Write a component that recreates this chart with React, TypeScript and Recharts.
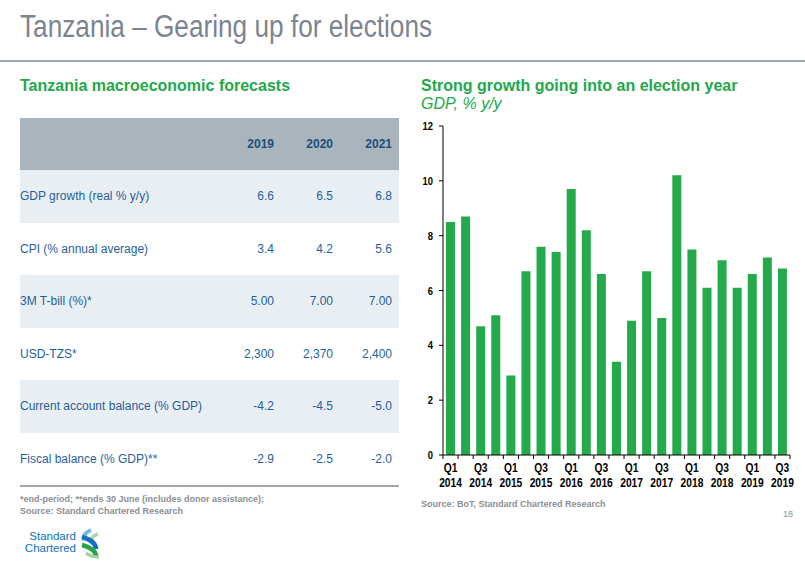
import React from "react";
import { BarChart, Bar, XAxis, YAxis } from "recharts";

// quarterly GDP growth, % y/y
const quarters = [
  "Q1 2014", "Q2 2014", "Q3 2014", "Q4 2014",
  "Q1 2015", "Q2 2015", "Q3 2015", "Q4 2015",
  "Q1 2016", "Q2 2016", "Q3 2016", "Q4 2016",
  "Q1 2017", "Q2 2017", "Q3 2017", "Q4 2017",
  "Q1 2018", "Q2 2018", "Q3 2018", "Q4 2018",
  "Q1 2019", "Q2 2019", "Q3 2019",
];
const gdpGrowth = [
  8.5, 8.7, 4.7, 5.1, 2.9, 6.7, 7.6, 7.4, 9.7, 8.2, 6.6, 3.4,
  4.9, 6.7, 5.0, 10.2, 7.5, 6.1, 7.1, 6.1, 6.6, 7.2, 6.8,
];
const yTicks = [0, 2, 4, 6, 8, 10, 12];

// forecast table
const forecastYears = ["2019", "2020", "2021"];
const indicators = [
  "GDP growth (real % y/y)",
  "CPI (% annual average)",
  "3M T-bill (%)*",
  "USD-TZS*",
  "Current account balance (% GDP)",
  "Fiscal balance (% GDP)**",
];
const indicatorValues = [
  ["6.6", "6.5", "6.8"],
  ["3.4", "4.2", "5.6"],
  ["5.00", "7.00", "7.00"],
  ["2,300", "2,370", "2,400"],
  ["-4.2", "-4.5", "-5.0"],
  ["-2.9", "-2.5", "-2.0"],
];

const data = quarters.map((q, i) => ({ quarter: q, gdp: gdpGrowth[i] }));

const SANS = '"Liberation Sans", Arial, sans-serif';
const GREEN = "#22a84a";
const BLUE_TEXT = "#1f5f9c";
const GREY_TEXT = "#8a8e93";
// no narrow face installed, so squeeze the regular one
const NARROW_X = 0.82;

const CHART_W = 395;
const CHART_H = 381;
const MARGIN = { top: 16, right: 15, left: 0, bottom: 0 };
const Y_W = 33;
const PLOT_W = CHART_W - MARGIN.left - MARGIN.right - Y_W;
const BAND = PLOT_W / quarters.length;

function QuarterTick(props: any) {
  const { x, y, payload, index } = props;
  const [q, yr] = String(payload.value).split(" ");
  const left = x - BAND / 2;
  return (
    <g>
      <line x1={left} x2={left} y1={y} y2={y + 4} stroke="#000" />
      {index === quarters.length - 1 && (
        <line x1={left + BAND} x2={left + BAND} y1={y} y2={y + 4} stroke="#000" />
      )}
      {index % 2 === 0 && (
        <text
          transform={`translate(${x},${y}) scale(${NARROW_X},1)`}
          textAnchor="middle"
          fontFamily={SANS}
          fontSize={12.5}
          fontWeight={700}
          fill="#000"
        >
          <tspan x={0} y={17}>{q}</tspan>
          <tspan x={0} y={32}>{yr}</tspan>
        </text>
      )}
    </g>
  );
}

function ValueTick(props: any) {
  const { x, y, payload } = props;
  return (
    <text
      transform={`translate(${x},${y}) scale(${NARROW_X},1)`}
      textAnchor="end"
      dy="0.355em"
      fontFamily={SANS}
      fontSize={11.5}
      fontWeight={700}
      fill="#000"
    >
      {payload.value}
    </text>
  );
}

function Logo() {
  return (
    <div style={{ position: "absolute", left: 0, top: 526, width: 110, height: 35 }}>
      <div
        style={{
          position: "absolute",
          right: 34,
          top: 4,
          textAlign: "right",
          fontFamily: SANS,
          fontSize: 11.5,
          lineHeight: "12px",
          color: "#0a72ba",
        }}
      >
        Standard
        <br />
        Chartered
      </div>
      <svg style={{ position: "absolute", left: 78, top: 2 }} width={26} height={32}>
        <path d="M13 2 Q4 6 6 12" stroke="#79b6e3" strokeWidth={4} fill="none" />
        <path d="M20 6 Q12 9 14 13" stroke="#a9d9ab" strokeWidth={3.5} fill="none" />
        <path d="M4 9 Q18 13 18 21" stroke="#1372bb" strokeWidth={4.5} fill="none" />
        <path d="M4 17 Q19 21 18 30" stroke="#26a447" strokeWidth={4.5} fill="none" />
        <path d="M8 25 Q13 29 21 29" stroke="#9fd49f" strokeWidth={3} fill="none" />
      </svg>
    </div>
  );
}

function ForecastTable() {
  const rowH = 52.5;
  return (
    <div style={{ position: "absolute", left: 20, top: 118, width: 379 }}>
      <div
        style={{
          display: "flex",
          alignItems: "center",
          height: 52,
          background: "#aab4bd",
          fontFamily: SANS,
          fontSize: 12,
          fontWeight: 700,
          color: "#1b4f7c",
        }}
      >
        <div style={{ width: 195 }} />
        {forecastYears.map((yr) => (
          <div key={yr} style={{ width: 59, textAlign: "right" }}>
            {yr}
          </div>
        ))}
      </div>
      {indicators.map((name, i) => (
        <div
          key={name}
          style={{
            display: "flex",
            alignItems: "center",
            height: rowH,
            background: i % 2 === 0 ? "#e9eef2" : "#ffffff",
            fontFamily: SANS,
            fontSize: 12,
            color: BLUE_TEXT,
          }}
        >
          <div style={{ width: 195 }}>{name}</div>
          {indicatorValues[i].map((v, j) => (
            <div key={j} style={{ width: 59, textAlign: "right" }}>
              {v}
            </div>
          ))}
        </div>
      ))}
      <div style={{ height: 2, background: "#a3a6aa" }} />
    </div>
  );
}

export default function App() {
  return (
    <div style={{ position: "relative", width: 805, height: 561, background: "#fff", overflow: "hidden" }}>
      <style>{`body{margin:0}`}</style>
      <div
        style={{
          position: "absolute",
          left: 20,
          top: 11,
          fontFamily: SANS,
          fontSize: 31,
          lineHeight: 1,
          color: "#7b8490",
          whiteSpace: "nowrap",
          transform: "scaleX(0.845)",
          transformOrigin: "left top",
        }}
      >
        Tanzania – Gearing up for elections
      </div>
      <div style={{ position: "absolute", left: 0, top: 60, width: 805, height: 2, background: "#9da5ae" }} />

      <div
        style={{
          position: "absolute",
          left: 20,
          top: 78,
          fontFamily: SANS,
          fontSize: 16,
          fontWeight: 700,
          lineHeight: 1,
          color: GREEN,
          whiteSpace: "nowrap",
        }}
      >
        Tanzania macroeconomic forecasts
      </div>

      <ForecastTable />

      <div
        style={{
          position: "absolute",
          left: 20,
          top: 493,
          fontFamily: SANS,
          fontSize: 9,
          fontWeight: 700,
          lineHeight: "12px",
          color: GREY_TEXT,
          whiteSpace: "nowrap",
        }}
      >
        *end-period; **ends 30 June (includes donor assistance);
        <br />
        Source: Standard Chartered Research
      </div>

      <Logo />

      <div
        style={{
          position: "absolute",
          left: 421,
          top: 78,
          fontFamily: SANS,
          fontSize: 16,
          fontWeight: 700,
          lineHeight: 1,
          color: GREEN,
          whiteSpace: "nowrap",
        }}
      >
        Strong growth going into an election year
      </div>
      <div
        style={{
          position: "absolute",
          left: 421,
          top: 96,
          fontFamily: SANS,
          fontSize: 16,
          fontStyle: "italic",
          lineHeight: 1,
          color: GREEN,
          whiteSpace: "nowrap",
        }}
      >
        GDP, % y/y
      </div>

      <div style={{ position: "absolute", left: 410, top: 110 }}>
        <BarChart width={CHART_W} height={CHART_H} data={data} margin={MARGIN} barCategoryGap="20%">
          <XAxis
            dataKey="quarter"
            interval={0}
            height={36}
            tickSize={0}
            tickMargin={0}
            tickLine={false}
            axisLine={{ stroke: "#000" }}
            tick={<QuarterTick />}
          />
          <YAxis
            domain={[0, 12]}
            ticks={yTicks}
            interval={0}
            width={Y_W}
            tickSize={4}
            tickMargin={6}
            axisLine={{ stroke: "#000" }}
            tickLine={{ stroke: "#000" }}
            tick={<ValueTick />}
          />
          <Bar dataKey="gdp" fill="#24aa4a" isAnimationActive={false} />
        </BarChart>
      </div>

      <div
        style={{
          position: "absolute",
          left: 421,
          top: 500,
          fontFamily: SANS,
          fontSize: 9,
          fontWeight: 700,
          lineHeight: 1,
          color: GREY_TEXT,
          whiteSpace: "nowrap",
        }}
      >
        Source: BoT, Standard Chartered Research
      </div>

      <div
        style={{
          position: "absolute",
          right: 12,
          top: 510,
          fontFamily: SANS,
          fontSize: 9,
          lineHeight: 1,
          color: GREY_TEXT,
        }}
      >
        18
      </div>
    </div>
  );
}
